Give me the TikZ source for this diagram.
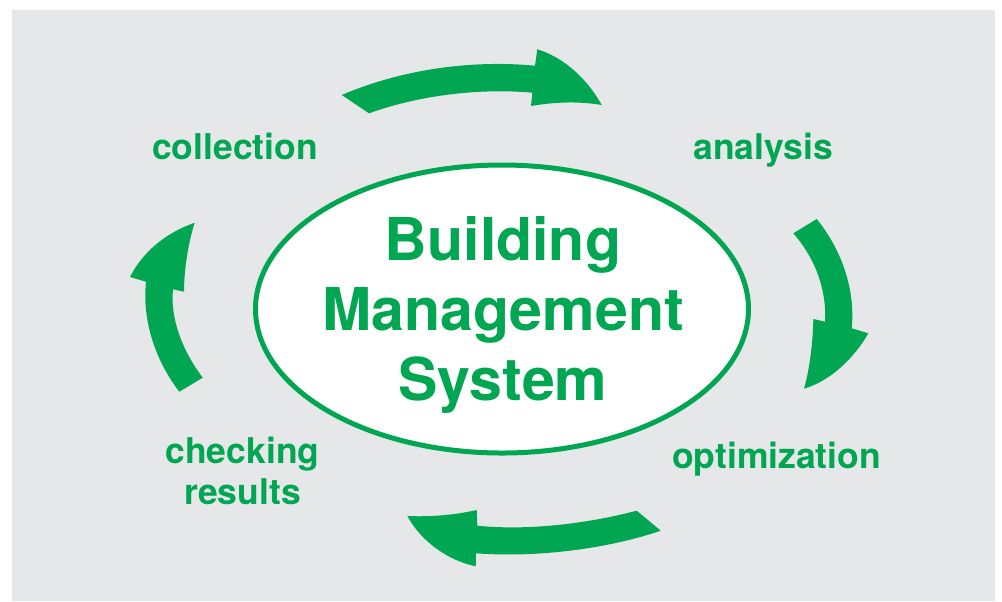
\documentclass[tikz,border=0pt]{standalone}
\usepackage{fontspec}
\setmainfont{TeX Gyre Heros}
\definecolor{bmsgreen}{HTML}{00A651}
\definecolor{bmsgrey}{HTML}{E6E7E9}
\tikzset{
  arrowshape/.style={fill=bmsgreen,draw=none},
  steplabel/.style={text=bmsgreen,font=\fontsize{26.6}{30.75}\selectfont\bfseries,align=center,inner sep=0pt,anchor=base},
  titlelabel/.style={text=bmsgreen,font=\fontsize{44.3}{52.5}\selectfont\bfseries,align=center,inner sep=0pt,anchor=base}
}
\begin{document}
\begin{tikzpicture}[x=0.75pt,y=-0.75pt]
\useasboundingbox (0,0) rectangle (1002,601);
\fill[bmsgrey] (12,10) rectangle (995,601);
% top arrow
\fill[arrowshape] (341.7,95) .. controls (405,68) and (475,60) .. (535,65.7) -- (537.3,49.3)
  .. controls (560,56) and (585,75) .. (601.7,105)
  .. controls (578,101) and (555,102) .. (531,106) -- (532.3,92.7)
  .. controls (480,88) and (420,95) .. (369,113.3) -- cycle;
% right arrow
\fill[arrowshape] (816.7,219) .. controls (838,245) and (856,285) .. (851.7,328.3) -- (868.3,333.3)
  .. controls (856,355) and (833,380) .. (804,388.7)
  .. controls (810,368) and (813,340) .. (813.3,319) -- (825,321.7)
  .. controls (827,290) and (815,258) .. (793.3,233.3) -- cycle;
% bottom arrow
\fill[arrowshape] (660.7,530.7) .. controls (610,548) and (540,558) .. (476,553.3) -- (475.7,566.3)
  .. controls (450,561) and (422,543) .. (407.3,516)
  .. controls (430,517) and (455,515) .. (476.7,510) -- (477.3,525.7)
  .. controls (530,531) and (590,523) .. (636.7,510.7) -- cycle;
% left arrow
\fill[arrowshape] (179.3,391.7) .. controls (155,360) and (142,320) .. (146,281.7) -- (130,277)
  .. controls (142,253) and (165,233) .. (194.7,222.7)
  .. controls (189,240) and (184,268) .. (184,291.7) -- (173,289.3)
  .. controls (170,318) and (182,350) .. (202.7,377.7) -- cycle;
% ellipse
\draw[bmsgreen,line width=3.75pt,fill=white] (502,309) ellipse [x radius=246.5,y radius=144];
\node[titlelabel] (title) at (503,400) {Building\\Management\\System};
\node[steplabel] (collection) at (235,159) {collection};
\node[steplabel] (analysis) at (763,159) {analysis};
\node[steplabel] (optimization) at (776.5,468) {optimization};
\node[steplabel] (checking) at (242.5,504) {checking\\results};
\end{tikzpicture}
\end{document}
